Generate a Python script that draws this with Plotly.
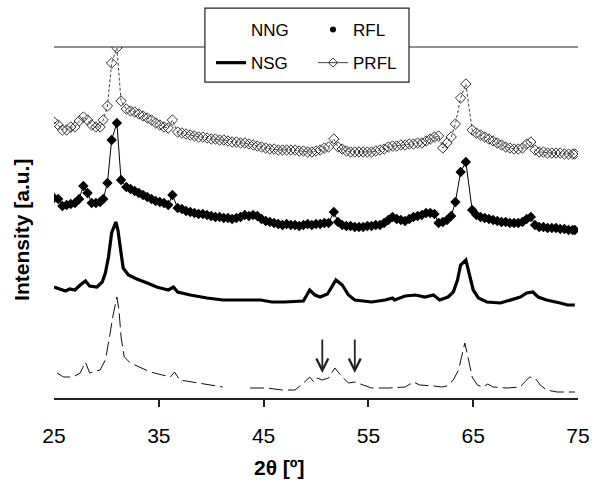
import plotly.graph_objects as go

# --- X-ray diffraction patterns, intensity in arbitrary units (curves stacked) ---

# NNG: thin dashed curve at the bottom
nng_2theta = [25.3, 25.9, 26.8, 27.5, 28.0, 28.4, 29.4, 29.9, 30.3, 30.6, 31.0, 31.2, 31.4, 31.7,
              32.3, 34.2, 36.1, 36.5, 37.0, 38.9, 41.1, None, 43.7, 45.3, 46.8, 48.0, 48.8, 49.4,
              49.8, 50.1, 50.6, 51.2, 51.8, 52.5, 53.1, 53.7, 54.5, 55.3, 56.9, 58.5, 59.3, 59.9,
              61.2, 62.0, 62.5, 63.1, 63.6, 63.9, 64.2, 64.5, 64.9, 65.4, 65.9, 66.4, 66.9, 68.2,
              69.5, 69.9, 70.4, 70.9, 71.4, 72.0, 73.0, 74.7]
nng_int = [25, 21, 21, 25, 36, 25, 28, 38, 61, 81, 101, 88, 61, 41,
           35, 26, 21, 26, 18, 15, 11, None, 10, 10, 8, 8, 15, 21,
           16, 20, 18, 20, 30, 21, 15, 16, 13, 10, 10, 11, 16, 13,
           12, 11, 12, 18, 28, 41, 55, 41, 21, 13, 11, 14, 11, 10,
           11, 16, 21, 20, 13, 8, 6, 6]

# NSG: thick solid curve
nsg_2theta = [25.0, 25.6, 26.1, 26.5, 27.0, 27.5, 28.0, 28.4, 29.1, 29.6, 29.9, 30.2, 30.5, 30.9,
              31.1, 31.4, 31.6, 32.1, 32.9, 33.9, 34.8, 35.9, 36.4, 36.8, 38.0, 39.6, 41.1, 43.7,
              44.7, 45.8, 47.0, 48.8, 49.1, 49.4, 49.9, 50.4, 51.1, 51.5, 51.9, 52.5, 53.1, 53.7,
              55.3, 56.6, 57.3, 57.5, 58.5, 59.5, 60.4, 61.2, 61.8, 62.6, 63.1, 63.5, 63.8, 64.3,
              64.6, 65.0, 65.5, 66.3, 67.6, 68.5, 69.5, 70.1, 70.7, 71.2, 72.0, 73.3, 74.0, 74.7]
nsg_int = [111, 109, 107, 109, 108, 113, 117, 112, 111, 116, 125, 141, 165, 176,
           168, 145, 130, 123, 119, 115, 111, 108, 111, 106, 103, 100, 98, 98,
           98, 96, 96, 97, 103, 108, 103, 101, 104, 111, 118, 113, 103, 98,
           96, 98, 100, 98, 102, 103, 101, 103, 98, 101, 106, 118, 133, 138,
           125, 108, 100, 96, 95, 98, 101, 105, 106, 101, 98, 95, 93, 93]

# RFL and PRFL share the same scan positions
scan_2theta = [25.0, 25.4, 25.8, 26.2, 26.6, 27.0, 27.4, 27.8, 28.2, 28.6, 29.0, 29.4, 29.7, 30.1,
               30.5, 31.0, 31.4, 31.9, 32.3, 32.7, 33.1, 33.5, 33.9, 34.3, 34.7, 35.1, 35.5, 35.9,
               36.3, 36.8, 37.2, 37.6, 38.0, 38.4, 38.8, 39.2, 39.6, 40.0, 40.4, 40.8, 41.2, 41.6,
               42.0, 42.4, 42.8, 43.2, 43.6, 44.0, 44.4, 44.8, 45.2, 45.6, 46.0, 46.4, 46.8, 47.2,
               47.6, 48.0, 48.4, 48.8, 49.2, 49.6, 50.0, 50.4, 50.8, 51.2, 51.7, 52.1, 52.5, 52.9,
               53.3, 53.7, 54.1, 54.5, 54.9, 55.3, 55.7, 56.1, 56.5, 56.9, 57.3, 57.7, 58.1, 58.5,
               58.9, 59.3, 59.7, 60.1, 60.5, 60.9, 61.3, 61.7, 62.1, 62.5, 62.9, 63.3, 63.8, 64.3,
               64.9, 65.3, 65.7, 66.1, 66.5, 66.9, 67.3, 67.7, 68.1, 68.5, 68.9, 69.3, 69.7, 70.1,
               70.5, 70.9, 71.3, 71.7, 72.1, 72.5, 72.9, 73.3, 73.7, 74.1, 74.5, 74.7]

rfl_int = [200, 199, 192, 193, 194, 195, 199, 212, 205, 195, 195, 196, 199, 215,
           258, 275, 218, 211, 209, 207, 205, 203, 201, 199, 197, 196, 195, 193,
           203, 190, 189, 187, 186, 185, 184, 184, 183, 182, 181, 181, 180, 180,
           179, 180, 181, 183, 182, 183, 182, 179, 177, 176, 175, 174, 173, 174,
           173, 173, 172, 173, 174, 173, 174, 174, 175, 175, 186, 176, 173, 172,
           172, 171, 171, 171, 172, 172, 173, 173, 175, 178, 181, 179, 178, 177,
           179, 181, 182, 183, 185, 185, 184, 175, 176, 178, 182, 196, 226, 236,
           188, 183, 181, 180, 179, 178, 177, 176, 176, 175, 175, 175, 176, 179,
           181, 173, 171, 171, 170, 170, 170, 169, 169, 168, 168, 168]

prfl_int = [276, 273, 268, 268, 271, 271, 277, 281, 278, 273, 271, 271, 278, 292,
            335, 350, 297, 289, 287, 286, 284, 282, 280, 278, 275, 273, 271, 270,
            278, 266, 265, 264, 263, 262, 261, 261, 260, 259, 259, 258, 258, 257,
            256, 256, 255, 255, 254, 253, 252, 251, 250, 249, 249, 248, 248, 248,
            248, 248, 247, 247, 246, 246, 247, 248, 250, 251, 259, 251, 249, 247,
            246, 246, 246, 246, 246, 246, 247, 248, 249, 251, 252, 252, 253, 253,
            254, 254, 255, 255, 257, 259, 261, 262, 250, 255, 261, 274, 300, 314,
            268, 265, 263, 261, 259, 257, 255, 253, 251, 250, 249, 249, 250, 254,
            256, 248, 246, 246, 245, 245, 245, 245, 244, 244, 244, 244]

# Reflections marked with arrows on the NNG pattern
arrow_2theta = [50.6, 53.7]
arrow_tip = 25
arrow_tail = 60

x_ticks = [25, 35, 45, 55, 65, 75]
x_range = [25, 75]
y_range = [0, 351]

FONT = "Liberation Sans, Arial, sans-serif"

fig = go.Figure()

fig.add_trace(go.Scatter(
    x=nng_2theta, y=nng_int, mode="lines", connectgaps=False, showlegend=False,
    line=dict(color="#111", width=1, dash="14px,5px"), xaxis="x2"))
fig.add_trace(go.Scatter(
    x=nsg_2theta, y=nsg_int, mode="lines", showlegend=False,
    line=dict(color="black", width=3.2)))
fig.add_trace(go.Scatter(
    x=scan_2theta, y=rfl_int, mode="lines+markers", showlegend=False,
    line=dict(color="black", width=1),
    marker=dict(symbol="diamond", size=8, color="black")))
fig.add_trace(go.Scatter(
    x=scan_2theta, y=prfl_int, mode="lines+markers", showlegend=False,
    line=dict(color="#444", width=1, dash="3px,2px"),
    marker=dict(symbol="diamond-open", size=8, color="#333", line=dict(width=1))))

# legend entries (samples styled as in the key)
fig.add_trace(go.Scatter(
    x=[None], y=[None], mode="lines", name="NNG", line=dict(width=0.01, color="rgba(0,0,0,0)"),
    legend="legend", legendgroup="g1"))
fig.add_trace(go.Scatter(
    x=[None], y=[None], mode="lines", name="NSG", line=dict(color="black", width=3.2),
    legend="legend", legendgroup="g2"))
fig.add_trace(go.Scatter(
    x=[None], y=[None], mode="markers", name="RFL",
    marker=dict(symbol="circle", size=6, color="black"),
    legend="legend2", legendgroup="g3"))
fig.add_trace(go.Scatter(
    x=[None], y=[None], mode="lines+markers", name="PRFL",
    line=dict(color="#444", width=1),
    marker=dict(symbol="diamond-open", size=7, color="#333", line=dict(width=1)),
    legend="legend2", legendgroup="g4"))

for a in arrow_2theta:
    fig.add_annotation(x=a, y=arrow_tip, ax=a, ay=arrow_tail, xref="x", yref="y",
                       axref="x", ayref="y", text="", showarrow=True,
                       arrowhead=5, arrowsize=1.3, arrowwidth=1.8, arrowcolor="#222")

# frame line along the top and the boxed legend
fig.add_shape(type="line", xref="paper", yref="paper", x0=0, x1=1, y0=1, y1=1,
              line=dict(color="#222", width=1.2), layer="above")
fig.add_shape(type="rect", xref="paper", yref="paper", x0=0.288, x1=0.6775, y0=0.90, y1=1.111,
              line=dict(color="#222", width=1.2), fillcolor="white", layer="above")

fig.add_annotation(text="<b>2θ [º]</b>", xref="paper", yref="paper", x=0.431, y=-0.197,
                   xanchor="center", yanchor="middle",
                   showarrow=False, font=dict(family=FONT, size=21, color="black"))
fig.add_annotation(text="<b>Intensity [a.u.]</b>", xref="paper", yref="paper", x=-0.061, y=0.479,
                   xanchor="center", yanchor="middle", textangle=-90, showarrow=False,
                   font=dict(family=FONT, size=21, color="black"))

legend_common = dict(xanchor="left", yanchor="top",
                     bgcolor="rgba(0,0,0,0)", borderwidth=0, traceorder="grouped",
                     tracegroupgap=8, font=dict(family=FONT, size=17, color="black"))

fig.update_layout(
    width=592, height=480, autosize=False,
    margin=dict(l=54, r=14, t=47, b=82, autoexpand=False),
    paper_bgcolor="white", plot_bgcolor="white",
    font=dict(family=FONT, color="black"),
    legend=dict(x=0.2996, y=1.0997, **legend_common),
    legend2=dict(x=0.4943, y=1.0997, **legend_common),
    xaxis=dict(range=x_range, tickvals=x_ticks, ticks="outside", ticklen=8,
               tickcolor="rgba(0,0,0,0)", showline=True, linecolor="#222", linewidth=1.5,
               showgrid=False, zeroline=False, automargin=False, ticklabelstandoff=10,
               tickfont=dict(family=FONT, size=21, color="black")),
    xaxis2=dict(range=x_range, overlaying="x", anchor="y", side="bottom",
                tickvals=x_ticks[1:-1], ticks="outside", ticklen=8, tickwidth=1.5,
                tickcolor="#222", showticklabels=False, showline=False, showgrid=False,
                zeroline=False, automargin=False),
    yaxis=dict(range=y_range, visible=False, showgrid=False, zeroline=False, automargin=False),
)

fig.write_html("out.html")
